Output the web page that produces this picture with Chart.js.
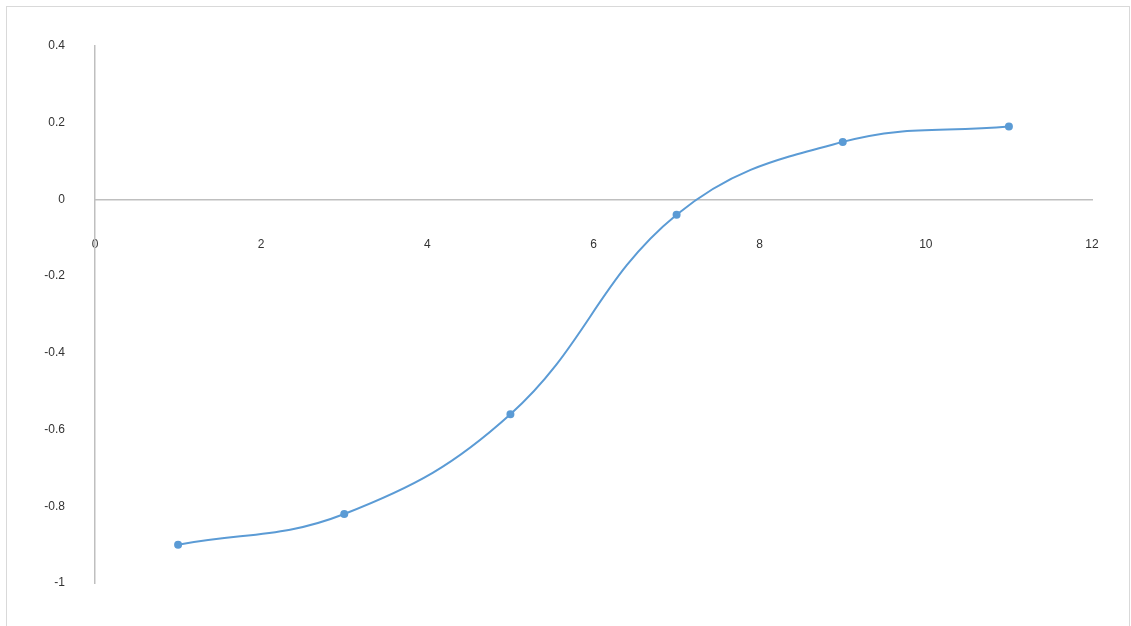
<!DOCTYPE html>
<html>
<head>
<meta charset="utf-8">
<script src="https://cdn.jsdelivr.net/npm/chart.js@4"></script>
<style>
  html, body { margin: 0; padding: 0; background: #fff; }
  body { width: 1131px; height: 626px; position: relative; overflow: hidden; }
  #frame { position: absolute; left: 6px; top: 6px; width: 1124px; height: 640px; border: 1px solid #d9d9d9; box-sizing: border-box; }
  #wrap { position: absolute; left: 0; top: 0; width: 1131px; height: 626px; }
</style>
</head>
<body>
<div id="frame"></div>
<div id="wrap"><canvas id="myChart"></canvas></div>
<script>
// chart data
const xValues = [1, 3, 5, 7, 9, 11];
const yValues = [-0.90, -0.82, -0.56, -0.04, 0.15, 0.19];
const xTicks = [0, 2, 4, 6, 8, 10, 12];
const yTicks = [-1, -0.8, -0.6, -0.4, -0.2, 0, 0.2, 0.4];
const xTickLabels = ["0", "2", "4", "6", "8", "10", "12"];
const yTickLabels = ["-1", "-0.8", "-0.6", "-0.4", "-0.2", "0", "0.2", "0.4"];

const points = xValues.map((x, i) => ({ x: x, y: yValues[i] }));
const tickFont = { family: "Liberation Sans", size: 12 };

const ctx = document.getElementById("myChart");
new Chart(ctx, {
  type: "scatter",
  data: {
    datasets: [
      {
        label: "Series1",
        data: points,
        showLine: true,
        borderColor: "#5b9bd5",
        backgroundColor: "#5b9bd5",
        borderWidth: 2,
        pointRadius: 3,
        pointHoverRadius: 4,
        tension: 0.4,
      },
    ],
  },
  options: {
    responsive: true,
    maintainAspectRatio: false,
    animation: false,
    layout: { padding: { top: 46, right: 39, bottom: 43, left: 0 } },
    plugins: { legend: { display: false }, tooltip: { enabled: false } },
    scales: {
      x: {
        type: "linear",
        position: { y: 0 },
        min: 0,
        max: 12,
        afterBuildTicks: (scale) => {
          scale.ticks = xTicks.map((v) => ({ value: v }));
        },
        ticks: {
          padding: 30,
          color: "#333",
          font: tickFont,
          maxRotation: 0,
          callback: (value) => xTickLabels[xTicks.indexOf(value)],
        },
        grid: { display: false },
        border: { display: true, color: "#bfbfbf", width: 1.5 },
      },
      y: {
        type: "linear",
        min: -1,
        max: 0.4,
        afterBuildTicks: (scale) => {
          scale.ticks = yTicks.map((v) => ({ value: v }));
        },
        afterFit: (scale) => {
          scale.width = 95; // y axis line sits at x=95
        },
        ticks: {
          padding: 22,
          color: "#333",
          font: tickFont,
          callback: (value) => {
            const i = yTicks.findIndex((t) => Math.abs(t - value) < 1e-9);
            return i >= 0 ? yTickLabels[i] : "";
          },
        },
        grid: { display: false },
        border: { display: true, color: "#bfbfbf", width: 1.5 },
      },
    },
  },
});
</script>
</body>
</html>
